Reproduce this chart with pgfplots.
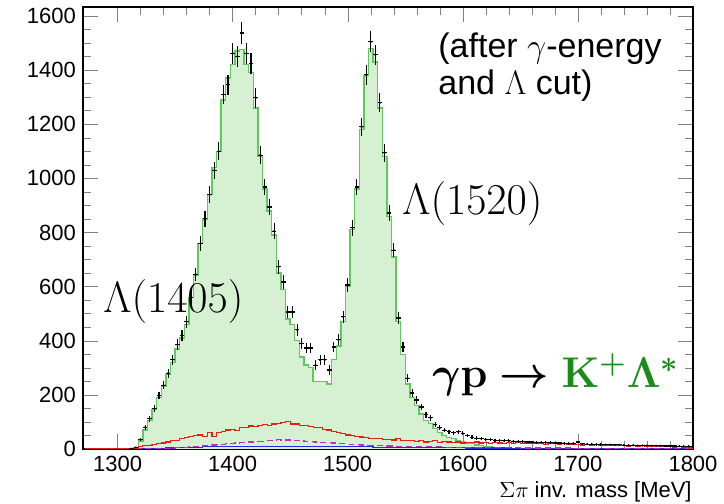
\RequirePackage{fix-cm}
\documentclass[border=0pt]{standalone}
\usepackage[no-math]{fontspec}
\setmainfont{Liberation Sans}
\usepackage{bm}
\usepackage{pgfplots}
\usepackage{pgfplotstable}
\pgfplotsset{compat=1.18}
\definecolor{histgreen}{RGB}{95,200,95}
\definecolor{histfill}{RGB}{214,241,209}
\definecolor{textgreen}{RGB}{25,140,25}
\definecolor{rootred}{RGB}{230,30,20}
\definecolor{rootmag}{RGB}{200,40,200}
\definecolor{rootblue}{RGB}{40,40,220}
\pgfplotstableread{
c d g r m b
1272 0 0 0 0 0
1276 0 0 0 0 0
1280 0 0 0 0 0
1284 0 0 0 0 0
1288 0 0 0 0 0
1292 0 0 0 0 0
1296 0 0 0 0 0
1300 0 0 0 0 0
1304 0 0 0 0 0
1308 0 0 0 0 0
1312 1 0 0 0 0
1316 6 5 3 0 0
1320 35 30 8 0 1
1324 80 70 12 1 1
1328 112 105 14 1 2
1332 150 145 18 2 2
1336 198 190 20 2 3
1340 236 230 22 3 3
1344 280 275 26 3 4
1348 330 320 30 4 4
1352 385 370 32 5 5
1356 420 410 38 6 5
1360 470 460 42 7 6
1364 560 560 45 8 6
1368 645 640 50 9 7
1372 760 760 52 10 7
1376 850 850 45 12 8
1380 940 940 60 13 8
1384 1030 1040 45 15 8
1388 1100 1100 62 16 9
1392 1310 1290 66 18 9
1396 1345 1370 70 19 9
1400 1462 1420 72 21 10
1404 1450 1470 68 22 10
1408 1537 1475 78 24 10
1412 1462 1420 80 25 10
1416 1425 1390 85 26 10
1420 1297 1260 84 27 10
1424 1086 1080 88 28 10
1428 968 960 90 29 10
1432 894 880 88 30 10
1436 805 790 92 32 10
1440 673 650 95 34 10
1444 617 590 98 30 10
1448 506 480 102 33 10
1452 506 460 92 31 10
1456 440 400 92 30 10
1460 390 340 88 32 10
1464 373 310 86 28 10
1468 373 300 82 29 9
1472 310 250 80 26 9
1476 329 250 78 25 9
1480 329 250 72 24 9
1484 292 240 70 23 9
1488 377 330 65 22 9
1492 403 380 60 20 9
1496 488 470 58 19 8
1500 606 600 52 18 8
1504 817 810 50 17 8
1508 968 960 46 16 8
1512 1190 1180 44 15 8
1516 1382 1380 42 14 8
1520 1504 1480 40 13 8
1524 1456 1430 38 13 7
1528 1279 1260 40 12 7
1532 1094 1080 35 12 7
1536 872 860 36 11 7
1540 735 710 33 11 7
1544 484 470 38 10 7
1548 377 350 30 10 6
1552 262 240 32 10 6
1556 207 190 30 9 6
1560 181 160 28 9 6
1564 155 130 32 9 6
1568 126 105 26 8 6
1572 115 95 28 8 5
1576 90 75 30 8 5
1580 78 60 25 8 5
1584 70 50 28 7 5
1588 63 42 26 7 5
1592 60 38 24 7 5
1596 63 32 26 7 5
1600 58 28 22 6 5
1604 50 22 25 6 4
1608 44 20 23 6 4
1612 40 15 26 6 4
1616 38 12 22 6 4
1620 36 10 24 5 4
1624 35 8 21 5 4
1628 33 6 25 5 4
1632 32 5 22 5 4
1636 30 4 20 5 4
1640 30 3 23 5 4
1644 29 2 21 5 3
1648 28 2 24 5 3
1652 27 1 20 4 3
1656 26 1 22 4 3
1660 26 0 19 4 3
1664 25 0 21 4 3
1668 24 0 20 4 3
1672 24 0 18 4 3
1676 23 0 21 4 3
1680 22 0 19 4 3
1684 22 0 17 4 3
1688 21 0 20 4 3
1692 20 0 18 4 3
1696 20 0 16 3 3
1700 26 0 18 3 3
1704 19 0 15 3 3
1708 18 0 17 3 3
1712 18 0 14 3 2
1716 17 0 16 3 2
1720 17 0 13 3 2
1724 16 0 15 3 2
1728 16 0 12 3 2
1732 15 0 14 3 2
1736 15 0 12 3 2
1740 14 0 13 3 2
1744 14 0 11 3 2
1748 14 0 12 3 2
1752 13 0 10 2 2
1756 13 0 12 2 2
1760 13 0 10 2 2
1764 12 0 11 2 2
1768 12 0 9 2 2
1772 12 0 10 2 2
1776 11 0 8 2 2
1780 11 0 9 2 2
1784 11 0 7 2 2
1788 10 0 8 2 2
1792 10 0 6 2 2
1796 10 0 5 2 2
1800 9 0 4 2 2
}\histtab
\begin{document}
\begin{tikzpicture}
\begin{axis}[
  name=ax, at={(41.5pt,27.5pt)}, anchor=south west,
  width=305pt, height=221pt, scale only axis,
  xmin=1270, xmax=1800, ymin=0, ymax=1633,
  xtick={1300,1400,1500,1600,1700,1800},
  ytick={0,200,400,600,800,1000,1200,1400,1600},
  minor x tick num=4, minor y tick num=3,
  tick align=inside, tick pos=both,
  major tick length=7.5pt, minor tick length=4pt,
  tick label style={font=\fontsize{11}{13}\selectfont},
  /pgf/number format/assume math mode=true,
  /pgf/number format/1000 sep={},
  axis line style={line width=0.6pt},
]
\addplot[const plot mark mid, draw=histgreen, line width=0.7pt, fill=histfill] table[x=c,y=g] {\histtab};
\addplot[const plot mark mid, draw=rootblue, line width=0.6pt] table[x=c,y=b] {\histtab};
\addplot[const plot mark mid, draw=rootmag, line width=0.6pt, densely dashed] table[x=c,y=m] {\histtab};
\addplot[const plot mark mid, draw=rootred, line width=0.6pt] table[x=c,y=r] {\histtab};
\addplot[black, only marks, mark=*, mark size=0.3pt, skip coords between index={0}{10},
  error bars/.cd, x dir=both, x explicit, y dir=both, y explicit,
  error mark options={mark size=0pt},
  error bar style={black, line width=0.55pt}]
  table[x=c, y=d, x error expr=2, y error expr={sqrt(\thisrow{d})}] {\histtab};
\end{axis}
\node[anchor=base west, inner sep=0pt, font=\fontsize{17}{20}\selectfont] at (219pt,223pt) {(after $\gamma$-energy};
\node[anchor=base west, inner sep=0pt, font=\fontsize{17}{20}\selectfont] at (219pt,204.5pt) {and $\Lambda$ cut)};
\node[anchor=base west, inner sep=0pt, font=\fontsize{22}{26}\selectfont] at (51.5pt,95.5pt) {$\Lambda(1405)$};
\node[anchor=base west, inner sep=0pt, font=\fontsize{22}{26}\selectfont] at (201pt,144.5pt) {$\Lambda(1520)$};
\node[anchor=base west, inner sep=0pt, font=\fontsize{21.5}{25}\selectfont] (gp) at (216pt,58pt) {$\bm{\gamma}\mathbf{p}\bm{\rightarrow}$};
\node[anchor=base west, inner sep=0pt, font=\fontsize{21.5}{25}\selectfont, text=textgreen] at ([xshift=6pt]gp.base east) {$\mathbf{K}^{\bm{+}}\bm{\Lambda}^{\bm{*}}$};
\node[anchor=base east, inner sep=0pt, font=\fontsize{11}{13}\selectfont] at (346pt,3pt) {$\Sigma\pi$ inv. mass [MeV]};
\pgfresetboundingbox
\path[use as bounding box] (0,0) rectangle (362pt,252pt);
\end{tikzpicture}
\end{document}
